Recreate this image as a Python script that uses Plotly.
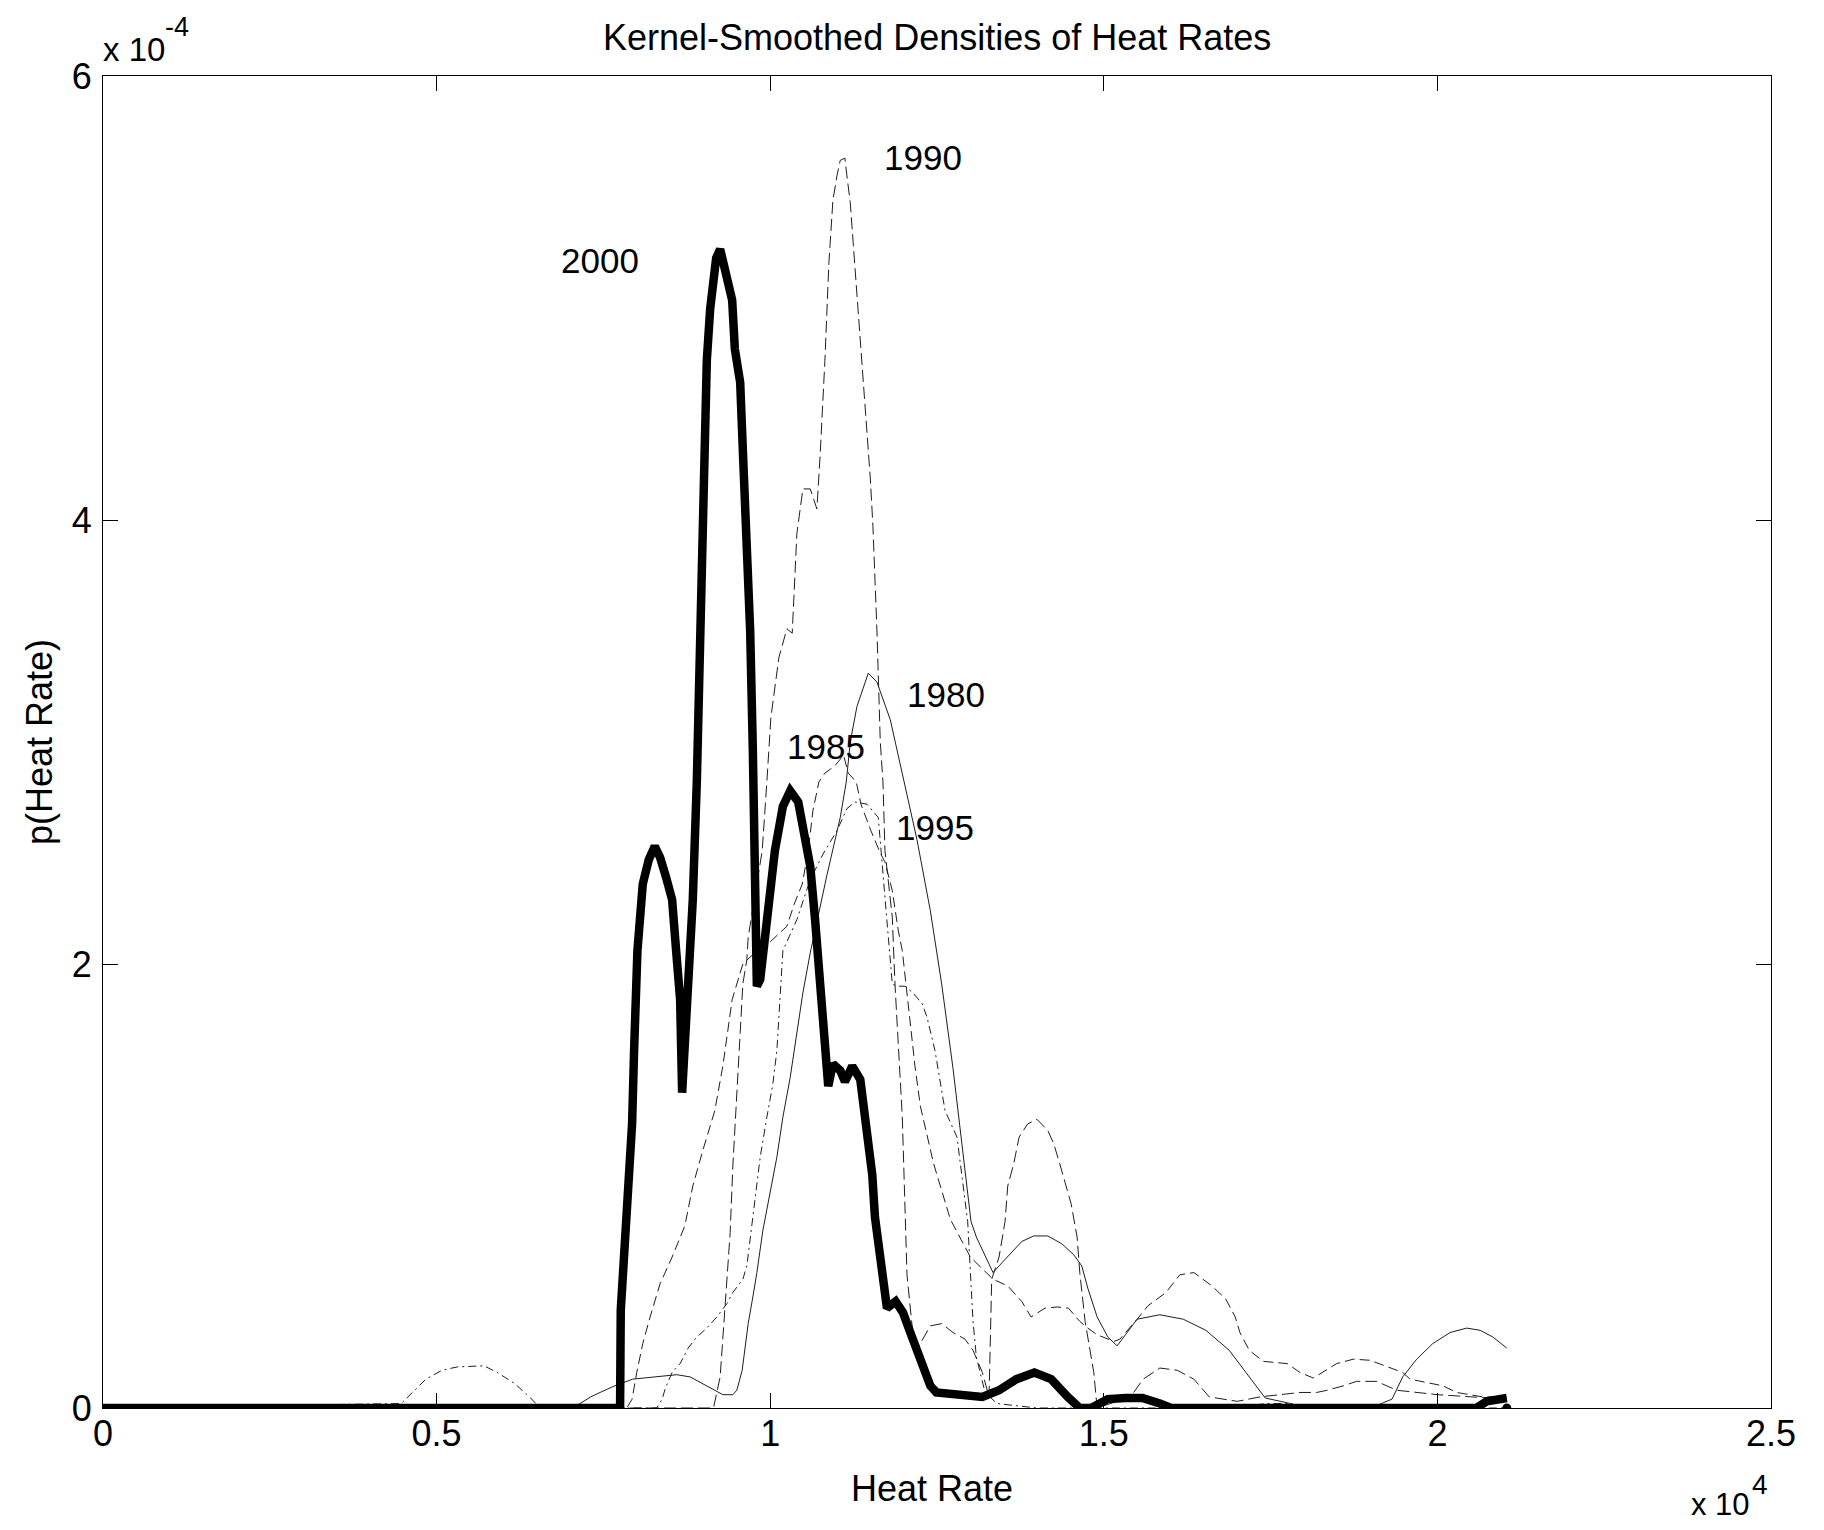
import plotly.graph_objects as go

# ---------------- data (heat rate in units of 1e4, density in units of 1e-4) ----------------
hr_1980 = [0, 0.700, 0.715, 0.731, 0.745, 0.767, 0.794, 0.824, 0.860, 0.880, 0.899, 0.917, 0.929, 0.944, 0.950,
           0.958, 0.967, 0.974, 0.980, 0.989, 1.000, 1.010, 1.019, 1.030, 1.040, 1.049, 1.060, 1.085, 1.105, 1.114,
           1.120, 1.130, 1.147, 1.160, 1.180, 1.199, 1.220, 1.240, 1.257, 1.274, 1.292, 1.301, 1.309, 1.326, 1.334,
           1.343, 1.361, 1.377, 1.395, 1.416, 1.437, 1.455, 1.467, 1.476, 1.490, 1.506, 1.520, 1.550, 1.584, 1.619,
           1.653, 1.688, 1.713, 1.742, 1.780, 1.800, 1.900, 1.932, 1.948, 1.969, 1.993, 2.019, 2.044, 2.064, 2.083,
           2.104]
p_1980 = [0, 0, 0.02, 0.05, 0.07, 0.10, 0.13, 0.14, 0.15, 0.14, 0.11, 0.08, 0.06, 0.06, 0.08,
          0.17, 0.38, 0.50, 0.61, 0.80, 0.98, 1.13, 1.31, 1.49, 1.69, 1.87, 2.05, 2.40, 2.66, 2.82,
          3.00, 3.16, 3.31, 3.27, 3.10, 2.84, 2.56, 2.24, 1.91, 1.53, 1.07, 0.84, 0.77, 0.66, 0.61,
          0.64, 0.70, 0.75, 0.775, 0.775, 0.74, 0.69, 0.64, 0.54, 0.41, 0.32, 0.28, 0.40, 0.42, 0.40,
          0.35, 0.26, 0.16, 0.045, 0.02, 0, 0, 0.04, 0.14, 0.22, 0.29, 0.34, 0.36, 0.35, 0.32,
          0.27]

hr_1985 = [0, 0.785, 0.793, 0.800, 0.809, 0.820, 0.835, 0.853, 0.872, 0.884, 0.899, 0.917, 0.929, 0.943, 0.959,
           0.980, 1.000, 1.025, 1.036, 1.048, 1.057, 1.064, 1.073, 1.082, 1.096, 1.110, 1.117, 1.129, 1.136, 1.151,
           1.165, 1.172, 1.183, 1.192, 1.198, 1.207, 1.217, 1.225, 1.245, 1.270, 1.300, 1.334, 1.356, 1.377, 1.391,
           1.412, 1.430, 1.447, 1.464, 1.476, 1.490, 1.515, 1.524, 1.550, 1.566, 1.593, 1.614, 1.635, 1.662, 1.683,
           1.697, 1.704, 1.718, 1.739, 1.775, 1.794, 1.814, 1.849, 1.874, 1.899, 1.929, 1.948, 1.959, 2.008, 2.029,
           2.068, 2.104]
p_1985 = [0, 0, 0.04, 0.16, 0.29, 0.41, 0.56, 0.68, 0.82, 1.00, 1.16, 1.34, 1.54, 1.84, 2.00,
          2.06, 2.10, 2.17, 2.27, 2.36, 2.51, 2.69, 2.82, 2.86, 2.89, 2.94, 2.86, 2.82, 2.72, 2.60,
          2.50, 2.46, 2.33, 2.15, 2.06, 1.81, 1.54, 1.36, 1.10, 0.85, 0.68, 0.58, 0.55, 0.48, 0.41,
          0.45, 0.455, 0.45, 0.39, 0.36, 0.33, 0.30, 0.31, 0.40, 0.46, 0.52, 0.60, 0.61, 0.55, 0.49,
          0.41, 0.34, 0.26, 0.21, 0.20, 0.16, 0.135, 0.20, 0.22, 0.215, 0.18, 0.16, 0.13, 0.10, 0.07,
          0.05, 0.05]

hr_1990 = [0, 0.915, 0.925, 0.929, 0.935, 0.940, 0.944, 0.950, 0.955, 0.959, 0.965, 0.967, 0.988, 0.995, 1.001,
           1.013, 1.025, 1.033, 1.040, 1.049, 1.060, 1.070, 1.075, 1.082, 1.088, 1.094, 1.100, 1.105, 1.112, 1.115,
           1.120, 1.127, 1.132, 1.138, 1.142, 1.150, 1.154, 1.160, 1.165, 1.169, 1.172, 1.177, 1.183, 1.187, 1.192,
           1.198, 1.205, 1.215, 1.223, 1.240, 1.257, 1.274, 1.292, 1.304, 1.318, 1.328, 1.332, 1.343, 1.352, 1.356,
           1.365, 1.373, 1.386, 1.400, 1.416, 1.425, 1.434, 1.442, 1.451, 1.460, 1.464, 1.472, 1.485, 1.490, 1.540,
           1.559, 1.584, 1.610, 1.635, 1.658, 1.700, 1.734, 1.760, 1.794, 1.819, 1.835, 1.859, 1.879, 1.909, 1.924,
           1.939, 2.000, 2.050, 2.104]
p_1990 = [0, 0, 0.14, 0.31, 0.56, 0.79, 1.09, 1.39, 1.69, 1.91, 2.02, 2.12, 2.51, 2.82, 3.11,
          3.38, 3.51, 3.49, 3.94, 4.14, 4.14, 4.05, 4.30, 4.72, 5.16, 5.44, 5.55, 5.62, 5.63, 5.55,
          5.43, 5.14, 4.93, 4.72, 4.51, 4.19, 3.97, 3.50, 3.00, 2.82, 2.51, 2.36, 2.21, 1.91, 1.61,
          1.31, 0.60, 0.30, 0.28, 0.37, 0.38, 0.34, 0.31, 0.26, 0.16, 0.05, 0.58, 0.68, 0.84, 1.00,
          1.10, 1.22, 1.28, 1.30, 1.25, 1.19, 1.10, 1.02, 0.92, 0.77, 0.61, 0.39, 0.16, 0.0, 0.05,
          0.13, 0.18, 0.17, 0.13, 0.05, 0.03, 0.05, 0.06, 0.07, 0.07, 0.08, 0.10, 0.12, 0.12, 0.10,
          0.08, 0.06, 0.05, 0.04]

hr_1995 = [0, 0.447, 0.484, 0.508, 0.531, 0.571, 0.591, 0.617, 0.641, 0.655, 0.830, 0.838, 0.843, 0.853, 0.865,
           0.877, 0.890, 0.905, 0.920, 0.935, 0.944, 0.959, 0.965, 0.974, 0.980, 0.985, 0.995, 1.004, 1.010, 1.015,
           1.019, 1.040, 1.060, 1.080, 1.100, 1.115, 1.127, 1.145, 1.154, 1.162, 1.172, 1.183, 1.190, 1.202, 1.214,
           1.228, 1.235, 1.247, 1.262, 1.280, 1.296, 1.304, 1.309, 1.322, 1.340, 1.400, 1.700, 1.742, 1.780, 1.800,
           2.104]
p_1995 = [0, 0.02, 0.13, 0.17, 0.185, 0.19, 0.16, 0.11, 0.045, 0, 0, 0.04, 0.09, 0.16, 0.20,
          0.27, 0.32, 0.36, 0.41, 0.47, 0.52, 0.58, 0.64, 0.86, 1.01, 1.13, 1.31, 1.46, 1.61, 1.84,
          2.06, 2.20, 2.38, 2.50, 2.60, 2.70, 2.73, 2.72, 2.69, 2.66, 2.30, 1.91, 1.90, 1.90, 1.87,
          1.82, 1.76, 1.61, 1.34, 1.22, 0.84, 0.39, 0.23, 0.07, 0.02, 0, 0, 0.02, 0.02, 0,
          0]

hr_2000 = [0, 0.775, 0.776, 0.787, 0.793, 0.796, 0.801, 0.809, 0.818, 0.827, 0.835, 0.844, 0.853, 0.859, 0.865,
           0.868, 0.874, 0.878, 0.884, 0.890, 0.895, 0.898, 0.902, 0.905, 0.910, 0.914, 0.919, 0.925, 0.935, 0.943,
           0.947, 0.955, 0.960, 0.965, 0.970, 0.974, 0.977, 0.980, 0.985, 0.997, 1.007, 1.019, 1.030, 1.042, 1.051,
           1.060, 1.067, 1.076, 1.085, 1.087, 1.094, 1.105, 1.112, 1.123, 1.135, 1.139, 1.145, 1.153, 1.157, 1.165,
           1.171, 1.175, 1.188, 1.199, 1.210, 1.225, 1.240, 1.249, 1.318, 1.343, 1.369, 1.396, 1.421, 1.446, 1.464,
           1.481, 1.506, 1.533, 1.558, 1.584, 1.601, 2.058, 2.074, 2.104, 2.104]
p_2000 = [0, 0, 0.44, 1.00, 1.28, 1.61, 2.06, 2.36, 2.47, 2.53, 2.48, 2.39, 2.29, 2.06, 1.84,
          1.42, 1.76, 2.06, 2.29, 2.82, 3.41, 3.86, 4.44, 4.72, 4.95, 5.10, 5.18, 5.22, 5.11, 4.99,
          4.77, 4.62, 4.24, 3.91, 3.50, 2.96, 2.50, 1.90, 1.93, 2.21, 2.51, 2.71, 2.78, 2.73, 2.59,
          2.44, 2.21, 1.91, 1.61, 1.45, 1.55, 1.52, 1.47, 1.54, 1.48, 1.39, 1.22, 1.05, 0.86, 0.64,
          0.49, 0.45, 0.48, 0.43, 0.34, 0.22, 0.10, 0.07, 0.05, 0.08, 0.13, 0.16, 0.13, 0.05, 0,
          0, 0.04, 0.045, 0.045, 0.02, 0, 0, 0.03, 0.045, 0]

x_ticks = [0, 0.5, 1, 1.5, 2, 2.5]
x_tick_labels = ["0", "0.5", "1", "1.5", "2", "2.5"]
y_ticks = [0, 2, 4, 6]
y_tick_labels = ["0", "2", "4", "6"]
year_labels = ["1990", "2000", "1980", "1985", "1995"]

for a, b in [(hr_1980, p_1980), (hr_1985, p_1985), (hr_1990, p_1990), (hr_1995, p_1995), (hr_2000, p_2000)]:
    assert len(a) == len(b)

FONT = "Liberation Sans, Arial, Helvetica, sans-serif"
THIN = "#1e1e1e"

fig = go.Figure()

fig.add_trace(go.Scatter(x=hr_1980, y=p_1980, mode="lines",
                         line=dict(color=THIN, width=1), name="1980"))
fig.add_trace(go.Scatter(x=hr_1985, y=p_1985, mode="lines",
                         line=dict(color=THIN, width=1, dash="10px,5px"), name="1985"))
fig.add_trace(go.Scatter(x=hr_1990, y=p_1990, mode="lines",
                         line=dict(color=THIN, width=1, dash="12px,5px"), name="1990"))
fig.add_trace(go.Scatter(x=hr_1995, y=p_1995, mode="lines",
                         line=dict(color=THIN, width=1, dash="8px,4px,2px,4px"), name="1995"))
fig.add_trace(go.Scatter(x=hr_2000[:-1], y=p_2000[:-1], mode="lines",
                         line=dict(color="black", width=8.5), name="2000"))
fig.add_trace(go.Scatter(x=hr_2000[-1:], y=p_2000[-1:], mode="markers",
                         marker=dict(color="black", size=9), name="2000 end"))

label_pos = {"1990": (1.229, 5.635), "2000": (0.745, 5.168), "1980": (1.264, 3.214),
             "1985": (1.084, 2.98), "1995": (1.247, 2.617)}
annotations = []
for lab in year_labels:
    lx, ly = label_pos[lab]
    annotations.append(dict(x=lx, y=ly, xref="x", yref="y", text=lab, showarrow=False,
                            font=dict(family=FONT, size=35, color="black"),
                            xanchor="center", yanchor="middle"))

# the page body has an 8px margin, so the figure is drawn 8px smaller and offset by 8px
OFF = 8
W, H = 1824 - OFF, 1530 - OFF
# plot area in window pixels
L, R, T, B = 103, 1771, 76, 1408


def px(xp, yp):
    return (xp - L) / (R - L), (B - yp) / (B - T)


def add_text(text, xp, yp, size, angle=0):
    ax, ay = px(xp, yp)
    annotations.append(dict(x=ax, y=ay, xref="paper", yref="paper", text=text, showarrow=False,
                            font=dict(family=FONT, size=size, color="black"), textangle=angle,
                            xanchor="center", yanchor="middle"))


add_text("Kernel-Smoothed Densities of Heat Rates", 937, 38, 36)
add_text("x 10", 134, 49, 33)
add_text("-4", 177, 27, 27)
add_text("x 10", 1720, 1505, 31)
add_text("4", 1760, 1484, 28)
add_text("Heat Rate", 932, 1488, 36)
add_text("p(Heat Rate)", 39, 742, 36, angle=-90)

axis_common = dict(showline=True, linecolor="black", linewidth=1, mirror="ticks",
                   ticks="inside", ticklen=15, tickwidth=1, tickcolor="black",
                   showgrid=False, zeroline=False,
                   tickfont=dict(family=FONT, size=36, color="black"))

fig.update_layout(
    width=W, height=H,
    margin=dict(l=L - OFF, r=1824 - R, t=T - OFF, b=1530 - B, pad=0),
    paper_bgcolor="white", plot_bgcolor="white",
    showlegend=False,
    annotations=annotations,
    xaxis=dict(range=[0, 2.5], tickvals=x_ticks, ticktext=x_tick_labels,
               ticklabelstandoff=-6, **axis_common),
    yaxis=dict(range=[0, 6], tickvals=y_ticks, ticktext=y_tick_labels,
               ticklabelstandoff=3, **axis_common),
)

fig.write_html("out.html")
